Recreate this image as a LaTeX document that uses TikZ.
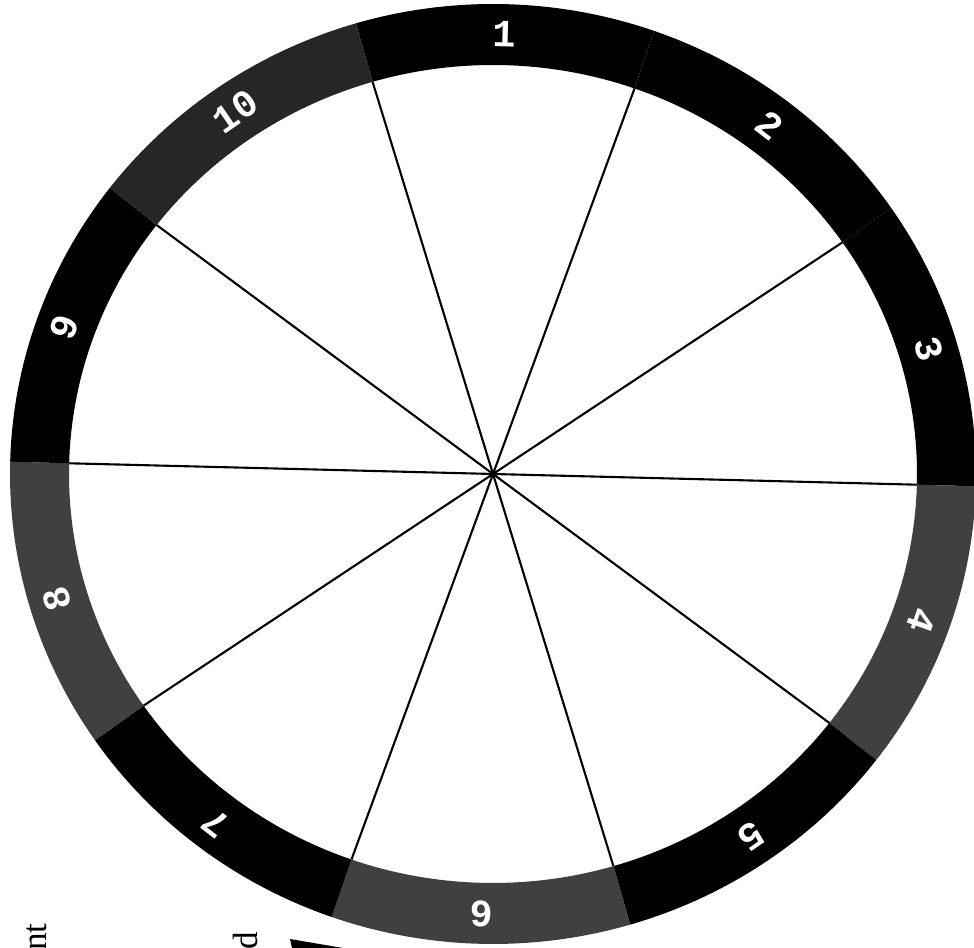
\documentclass[tikz,border=0pt]{standalone}
\usepackage{fontspec}
\usepackage{xcolor}
\usepackage{tikz}
\setmainfont{Liberation Serif}
\newfontfamily\ringfont{Liberation Mono}
\definecolor{ringgray}{HTML}{404040}
\definecolor{ringgraydk}{HTML}{262626}

\begin{document}
\begin{tikzpicture}[
    ringlabel/.style={text=white, font=\ringfont\bfseries\fontsize{11}{11}\selectfont, inner sep=0pt},
    spoke/.style={black, line width=0.6pt},
    scrap/.style={font=\fontsize{10}{10}\selectfont, inner sep=0pt, rotate=90}]
  \useasboundingbox (-4.93,-4.74) rectangle (4.81,4.74);
  % ring: outer 4.83 x 4.70, inner 4.24 x 4.09, boundaries at 106.5 - 36k
  \foreach \k/\col in {1/black,2/black,3/black,4/ringgray,5/black,
                       6/ringgray,7/black,8/ringgray,9/black,10/ringgraydk} {
    \pgfmathsetmacro\a{106.5-36*(\k-1)}
    \pgfmathsetmacro\b{\a-36}
    \pgfmathsetmacro\m{\a-18}
    \fill[\col] (\a:4.83 and 4.70)
         arc[start angle=\a, end angle=\b, x radius=4.83, y radius=4.70]
         -- (\b:4.24 and 4.09)
         arc[start angle=\b, end angle=\a, x radius=4.24, y radius=4.09]
         -- cycle;
    \node[ringlabel, rotate=\m-90] (lab\k) at (\m:4.55 and 4.40) {\k};
  }
  % spokes from the hub to the inner rim
  \coordinate (hub) at (0,0);
  \foreach \k in {1,...,10} {
    \pgfmathsetmacro\a{106.5-36*(\k-1)}
    \coordinate (rim\k) at (\a:4.24 and 4.09);
    \draw[spoke] (hub) -- (rim\k);
  }
  \fill (hub) circle (0.03);
  % bits of the page at the bottom edge
  \node[scrap] (scrapnt) at (-4.56,-4.63) {nt};
  \node[scrap] (scrapd) at (-2.48,-4.67) {d};
  \fill (-2.03,-4.65) -- (-1.50,-4.74) -- (-2.01,-4.74) -- cycle;
\end{tikzpicture}
\end{document}
